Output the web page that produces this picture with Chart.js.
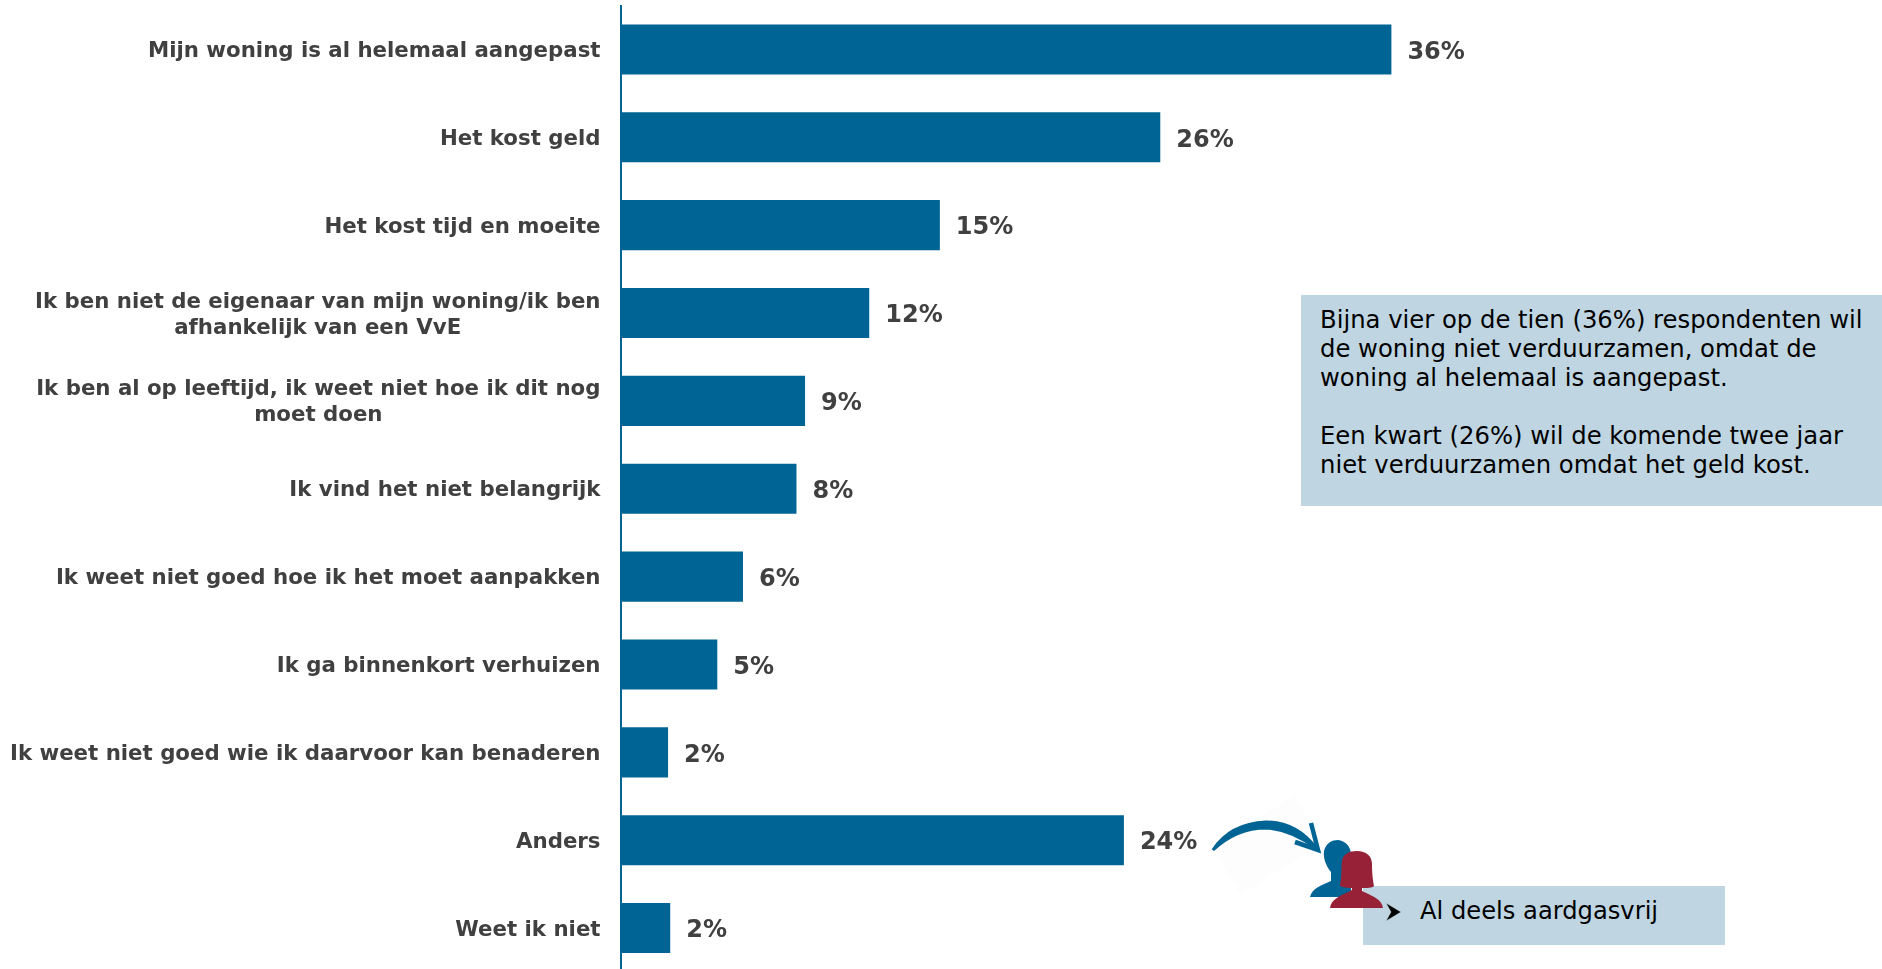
<!DOCTYPE html>
<html lang="nl">
<head>
<meta charset="utf-8">
<title>Redenen om niet te verduurzamen</title>
<script src="https://cdn.jsdelivr.net/npm/chart.js@4"></script>
<style>
  html, body { margin: 0; padding: 0; background: #fff; overflow: hidden; width: 1882px; height: 969px; }
  #wrap { position: relative; width: 1882px; height: 969px; overflow: hidden; }
  #chart { position: absolute; left: 0; top: 0; }
  .note { position: absolute; background: #BFD6E2; color: #000; font-family: "DejaVu Sans", sans-serif; white-space: nowrap; }
  #note-main { left: 1301px; top: 295px; width: 581px; height: 211px; box-sizing: border-box; padding: 10px 0 0 19px; font-size: 24.3px; line-height: 29.1px; }
  #note-gas { left: 1363px; top: 886px; width: 362px; height: 59px; font-size: 24.2px; line-height: 50px; padding-left: 57px; box-sizing: border-box; }
  #icons { position: absolute; left: 0; top: 0; pointer-events: none; }
</style>
</head>
<body>
<div id="wrap">
  <canvas id="chart" width="1882" height="972"></canvas>
  <div class="note" id="note-main">Bijna vier op de tien (36%) respondenten wil<br>de woning niet verduurzamen, omdat de<br>woning al helemaal is aangepast.<br><br>Een kwart (26%) wil de komende twee jaar<br>niet verduurzamen omdat het geld kost.</div>
  <div class="note" id="note-gas">Al deels aardgasvrij</div>
  <svg id="icons" width="1882" height="969" viewBox="0 0 1882 969">
    <!-- arrow -->
    <polygon points="1295,795 1321,843 1241,895 1213,848" fill="#FDFDFD"/>
    <path d="M1213,850 C1226,830 1244,823 1266,822 C1287,822 1303,831 1316,848 C1302,838 1284,829 1266,828 C1246,828 1228,836 1213,850 Z" fill="#006494" stroke="#006494" stroke-width="3"/>
    <path d="M1311,823 L1318,850 L1295,842" fill="none" stroke="#006494" stroke-width="4.5"/>
    <!-- man -->
    <path d="M1310,897 C1312,888 1322,885 1331,881 L1331,872 C1326,866 1323,858 1324,851 C1326,843 1332,840 1338,840 C1345,841 1351,846 1351,855 L1351,897 Z" fill="#006494"/>
    <!-- woman -->
    <path d="M1330,908 C1331,899 1340,896 1352,890 L1352,888 C1345,888 1340,887 1340,885 C1342,876 1341,868 1342,861 C1343,854 1349,851 1357,851 C1366,851 1372,856 1372,864 C1372,874 1373,881 1374,886 C1372,888 1367,888 1362,888 L1362,891 C1372,896 1382,899 1383,908 Z" fill="#972136"/>
    <!-- bullet -->
    <path d="M1386,903 L1401,912 L1386,921 L1391,912 Z" fill="#000" stroke="#BFD6E2" stroke-width="0.5"/>
  </svg>
</div>
<script>
const categories = [
  ["Mijn woning is al helemaal aangepast"],
  ["Het kost geld"],
  ["Het kost tijd en moeite"],
  ["Ik ben niet de eigenaar van mijn woning/ik ben", "afhankelijk van een VvE"],
  ["Ik ben al op leeftijd, ik weet niet hoe ik dit nog", "moet doen"],
  ["Ik vind het niet belangrijk"],
  ["Ik weet niet goed hoe ik het moet aanpakken"],
  ["Ik ga binnenkort verhuizen"],
  ["Ik weet niet goed wie ik daarvoor kan benaderen"],
  ["Anders"],
  ["Weet ik niet"]
];

// bar lengths as measured, the printed labels are rounded
const barValues = [36, 25.2, 14.9, 11.6, 8.6, 8.2, 5.7, 4.5, 2.2, 23.5, 2.3];
const valueLabels = ["36%", "26%", "15%", "12%", "9%", "8%", "6%", "5%", "2%", "24%", "2%"];

const barColor = "#006494";
const textColor = "#404040";

// category labels: right edge fixed, extra lines centred under the first one
const categoryLabels = {
  id: "categoryLabels",
  afterDatasetsDraw(chart) {
    const ctx = chart.ctx;
    const yScale = chart.scales.y;
    const rightEdge = 600.5;
    const lineHeight = 26;
    ctx.save();
    ctx.font = "bold 21.3px 'DejaVu Sans'";
    ctx.fillStyle = textColor;
    ctx.textBaseline = "middle";
    categories.forEach((lines, i) => {
      const y = yScale.getPixelForValue(i) + 2;
      const widest = Math.max(...lines.map(l => ctx.measureText(l).width));
      const top = y - (lines.length - 1) * lineHeight / 2;
      lines.forEach((line, n) => {
        const w = ctx.measureText(line).width;
        ctx.textAlign = "left";
        ctx.fillText(line, rightEdge - widest + (widest - w) / 2, top + n * lineHeight);
      });
    });
    ctx.restore();
  }
};

// value labels at the end of each bar
const valueLabelPlugin = {
  id: "valueLabelPlugin",
  afterDatasetsDraw(chart) {
    const ctx = chart.ctx;
    const bars = chart.getDatasetMeta(0).data;
    ctx.save();
    ctx.font = "bold 24px 'DejaVu Sans'";
    ctx.fillStyle = textColor;
    ctx.textAlign = "left";
    ctx.textBaseline = "middle";
    bars.forEach((bar, i) => {
      ctx.fillText(valueLabels[i], bar.x + 16, bar.y + 3);
    });
    ctx.restore();
  }
};

const chart = new Chart(document.getElementById("chart"), {
  type: "bar",
  data: {
    labels: categories,
    datasets: [{
      data: barValues,
      backgroundColor: barColor,
      barPercentage: 0.57,
      categoryPercentage: 1
    }]
  },
  options: {
    indexAxis: "y",
    responsive: false,
    animation: false,
    layout: { padding: { left: 613, right: 191, top: 5.5, bottom: 0 } },
    scales: {
      x: { display: false, min: 0, max: 50 },
      y: {
        grid: { display: false },
        ticks: { display: false },
        border: { display: true, color: barColor, width: 2 }
      }
    },
    plugins: {
      legend: { display: false },
      tooltip: { enabled: false }
    }
  },
  plugins: [categoryLabels, valueLabelPlugin]
});
</script>
</body>
</html>
